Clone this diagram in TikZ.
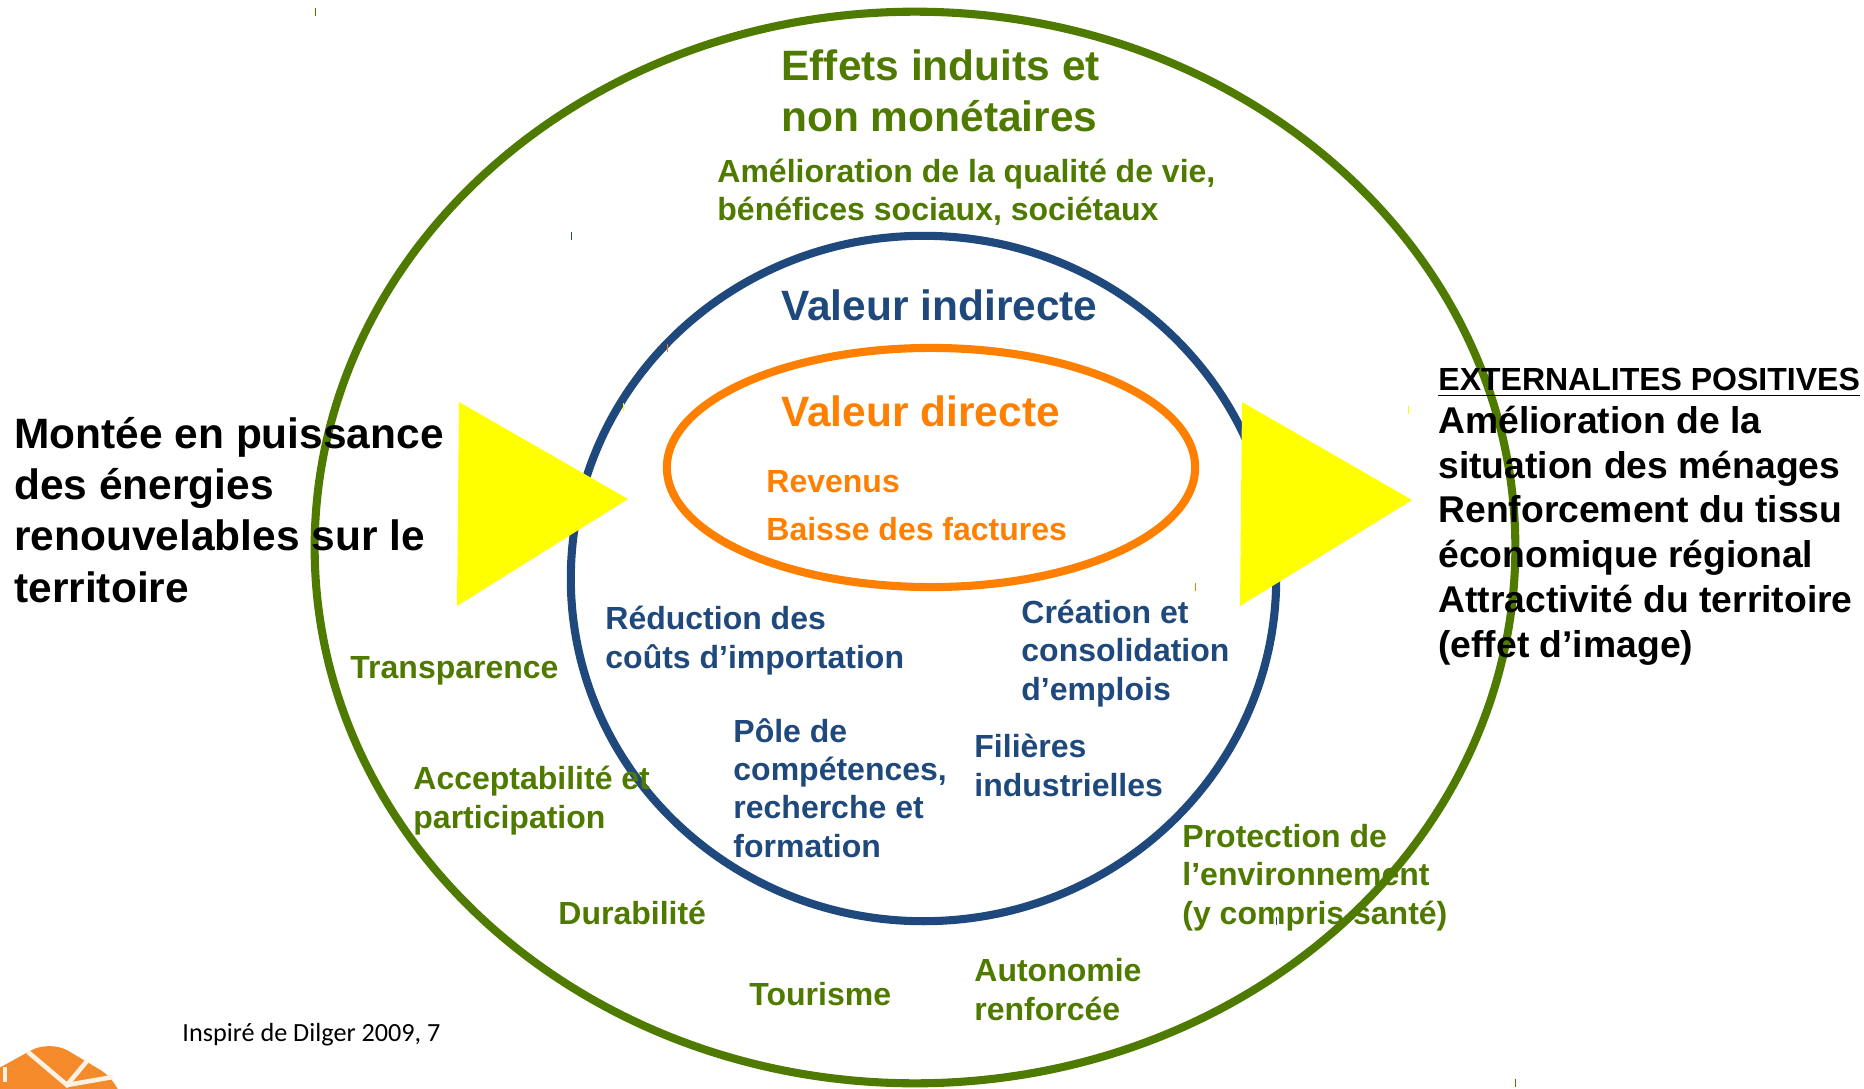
\documentclass[tikz,border=0pt]{standalone}
\usepackage{fontspec}
\setmainfont{Liberation Sans}
\newfontfamily\creditfont{Carlito}
\usetikzlibrary{shapes.geometric, positioning}
\definecolor{ringGreen}{HTML}{4F7A00}
\definecolor{ringBlue}{HTML}{1F497D}
\definecolor{ringOrange}{HTML}{FF8000}
\definecolor{logoOrange}{HTML}{F58A2A}
\definecolor{arrowYellow}{HTML}{FFFF00}

\begin{document}
\begin{tikzpicture}[x=0.01cm, y=-0.01cm, thick]
        % Estilos
        \tikzstyle{ring} = [draw, ellipse, inner sep=0pt, line width=2.3pt]
        \tikzstyle{label} = [anchor=base west, align=left, inner sep=0pt]
        \tikzstyle{big} = [label, font=\fontsize{12.07}{14.55}\selectfont\bfseries]
        \tikzstyle{small} = [label, font=\fontsize{9.1}{10.87}\selectfont\bfseries]
        \tikzstyle{outcome} = [label, font=\fontsize{10.6}{12.72}\selectfont\bfseries]

        \useasboundingbox (0,0) rectangle (1864,1088);
        \clip (0,0) rectangle (1864,1088);

        % Anillos
        \node at (915,547.5) [ring, ringGreen, minimum width=12cm, minimum height=10.71cm] (outerRing) {};
        \node at (923.5,578.5) [ring, ringBlue, minimum width=7.05cm, minimum height=6.85cm] (middleRing) {};
        \node at (931,467.5) [ring, ringOrange, minimum width=5.28cm, minimum height=2.39cm] (innerRing) {};

        % Triangulos
        \fill [arrowYellow] (459,402) -- (628,499) -- (457,606) -- cycle;
        \fill [arrowYellow] (1242,402) -- (1412,500) -- (1240,606) -- cycle;

        % Logo
        \fill [logoOrange, rounded corners=6pt] (-30,1084) -- (50,1040) -- (119,1081) -- (125,1120) -- (-30,1120) -- cycle;
        \draw [white!90!orange, line width=1.3pt] (28,1052) -- (67,1085) -- (87,1061);
        \draw [white!90!orange, line width=1.3pt] (67,1085) -- (113,1077);
        \draw [white!90!orange, line width=1.3pt] (5,1067) -- (5,1082);

        % Marcas
        \foreach \tickX/\tickY/\tickColor in {315/12/ringGreen, 1515/1083/ringGreen, 571/236/ringBlue, 1276/921/ringBlue, 667/348/ringOrange, 1195/587/ringOrange, 623/407/arrowYellow, 1408/410/arrowYellow}
          \draw [\tickColor, line width=0.25pt] (\tickX,\tickY-4) -- (\tickX,\tickY+4);

        % Texto anillo exterior
        \node at (780,132) [big, ringGreen] (titleOuter) {Effets induits et\\non monétaires};
        \node at (716,221) [small, ringGreen] (subtitleOuter) {Amélioration de la qualité de vie,\\bénéfices sociaux, sociétaux};
        \node at (349,678) [small, ringGreen] (transparence) {Transparence};
        \node at (412,828) [small, ringGreen] (acceptabilite) {Acceptabilité et\\participation};
        \node at (557,924) [small, ringGreen] (durabilite) {Durabilité};
        \node at (748,1005) [small, ringGreen] (tourisme) {Tourisme};
        \node at (973,1020) [small, ringGreen] (autonomie) {Autonomie\\renforcée};
        \node at (1181,924) [small, ringGreen] (protection) {Protection de\\l’environnement\\(y compris santé)};

        % Texto anillo medio
        \node at (780,320) [big, ringBlue] (titleMiddle) {Valeur indirecte};
        \node at (604,668) [small, ringBlue] (reduction) {Réduction des\\coûts d’importation};
        \node at (1020,700) [small, ringBlue] (creation) {Création et\\consolidation\\d’emplois};
        \node at (732,857) [small, ringBlue] (pole) {Pôle de\\compétences,\\recherche et\\formation};
        \node at (973,796) [small, ringBlue] (filieres) {Filières\\industrielles};

        % Texto anillo interior
        \node at (780,426) [big, ringOrange] (titleInner) {Valeur directe};
        \node at (765,492) [small, ringOrange] (revenus) {Revenus};
        \node at (765,540) [small, ringOrange] (factures) {Baisse des factures};

        % Entrada y salida
        \node at (13,602) [big] (montee) {Montée en puissance\\des énergies\\renouvelables sur le\\territoire};
        \node at (1437,390) [small] (externalites) {\underline{EXTERNALITES POSITIVES}};
        \node at (1437,657) [outcome] (ameliorationSituation) {Amélioration de la\\situation des ménages\\Renforcement du tissu\\économique régional\\Attractivité du territoire\\(effet d’image)};
        \node at (181,1041) [label, font=\fontsize{7.45}{9}\selectfont\creditfont] (credit) {Inspiré de Dilger 2009, 7};
\end{tikzpicture}
\end{document}
